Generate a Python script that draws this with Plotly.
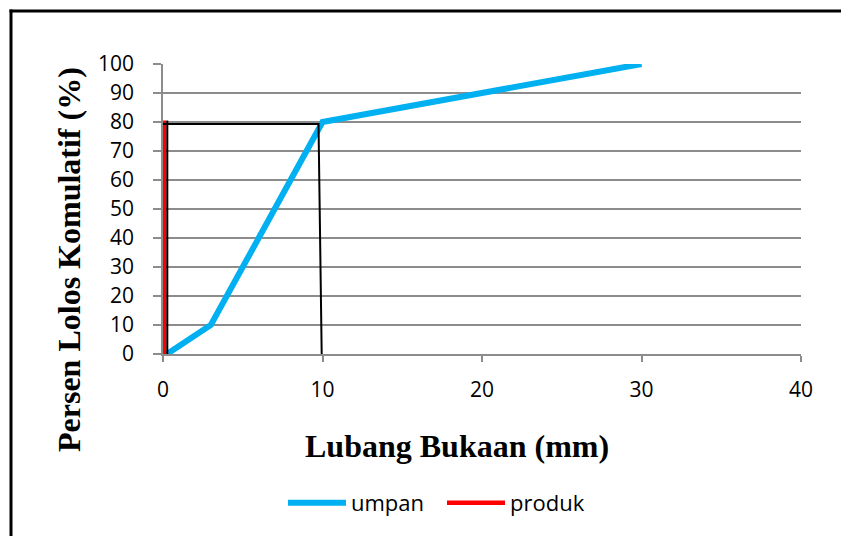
import plotly.graph_objects as go

# Data
umpan_x = [0.25, 3, 10, 30]
umpan_y = [0, 10, 80, 100]
produk_x = [0.075, 0.075]
produk_y = [0, 80.5]
# hand-drawn guide lines (black)
guide_x = [0.27, 0.27, None, -0.45, 9.75, 9.95]
guide_y = [-1.5, 80.5, None, 79.3, 79.3, 0]
x_ticks = [0, 10, 20, 30, 40]
y_ticks = [0, 10, 20, 30, 40, 50, 60, 70, 80, 90, 100]

W, H = 841, 536
ML, MR, MT, MB = 163, 40, 64, 182
PW, PH = W - ML - MR, H - MT - MB

def px(x):
    return (x - ML) / PW

def py(y):
    return (H - MB - y) / PH

fig = go.Figure()
fig.add_trace(go.Scatter(x=umpan_x, y=umpan_y, mode="lines", name="umpan",
                         line=dict(color="#00B0F0", width=6), cliponaxis=False))
fig.add_trace(go.Scatter(x=produk_x, y=produk_y, mode="lines", name="produk",
                         line=dict(color="#FF0000", width=4.5), cliponaxis=False))
fig.add_trace(go.Scatter(x=guide_x, y=guide_y, mode="lines", showlegend=False,
                         line=dict(color="#000000", width=2), cliponaxis=False,
                         hoverinfo="skip"))

tickfont = dict(family="Open Sans, Carlito, Calibri, sans-serif", size=21, color="#000000")
titlefont = dict(family="Liberation Serif, Times New Roman, serif", size=32, color="#000000",
                 weight="bold")

fig.update_layout(
    width=W, height=H,
    margin=dict(l=ML, r=MR, t=MT, b=MB),
    paper_bgcolor="white", plot_bgcolor="white",
    showlegend=True,
    legend=dict(orientation="h", x=px(283), xanchor="left", y=py(503), yanchor="middle",
                font=dict(family="Open Sans, Carlito, sans-serif", size=22, color="#000000"),
                itemwidth=58, entrywidth=86, bgcolor="rgba(0,0,0,0)"),
    xaxis=dict(range=[0, 40], tickvals=x_ticks, showgrid=False, zeroline=False,
               showline=True, linecolor="#8c8c8c", linewidth=1.5,
               ticks="outside", ticklen=6, tickcolor="#8c8c8c", tickwidth=1.5,
               tickfont=tickfont, ticklabelstandoff=10),
    yaxis=dict(range=[0, 100], tickvals=y_ticks, showgrid=True, gridcolor="#8c8c8c",
               gridwidth=1.5, zeroline=False,
               showline=True, linecolor="#8c8c8c", linewidth=1.5,
               ticks="outside", ticklen=8, tickcolor="#8c8c8c", tickwidth=1.5,
               tickfont=tickfont, ticklabelstandoff=15),
    annotations=[
        dict(text="Lubang Bukaan (mm)", xref="paper", yref="paper",
             x=px(457), y=py(446), xanchor="center", yanchor="middle",
             showarrow=False, font=titlefont),
        dict(text="Persen Lolos Komulatif (%)", xref="paper", yref="paper",
             x=px(69), y=py(260), xanchor="center", yanchor="middle",
             textangle=-90, showarrow=False, font=titlefont),
    ],
)

# outer frame: only the top and left edges are visible in the picture
fig.add_shape(type="line", xref="paper", yref="paper",
              x0=px(9.5), x1=px(W), y0=py(11), y1=py(11),
              line=dict(color="#000000", width=3), layer="above")
fig.add_shape(type="line", xref="paper", yref="paper",
              x0=px(11), x1=px(11), y0=py(9.5), y1=py(H),
              line=dict(color="#000000", width=3), layer="above")

fig.write_html("out.html", config={"displayModeBar": False},
               post_script="document.documentElement.style.overflow='hidden';"
                           "document.body.style.margin='0px';document.body.style.overflow='hidden';")
